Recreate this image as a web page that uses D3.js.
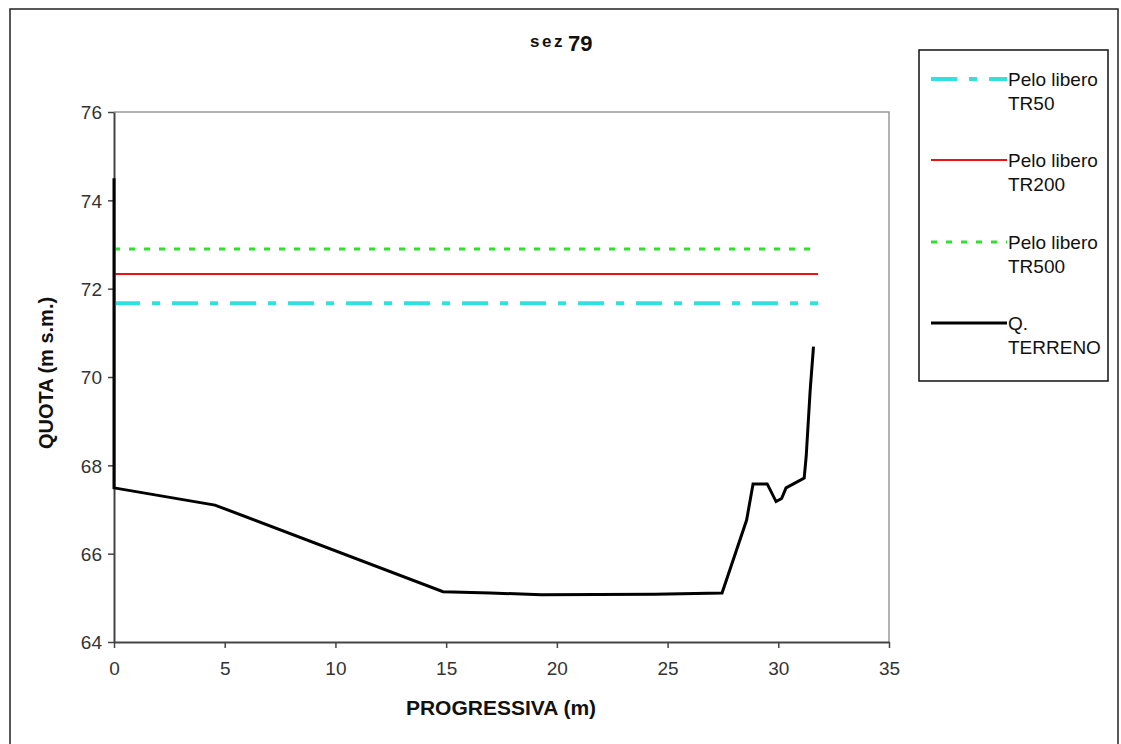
<!DOCTYPE html>
<html>
<head>
<meta charset="utf-8">
<script src="https://cdn.jsdelivr.net/npm/d3@7"></script>
<style>
  html, body { margin: 0; padding: 0; background: #fff; }
  svg { display: block; }
  text { font-family: "Liberation Sans", Arial, sans-serif; }
</style>
</head>
<body>
<svg id="chart" width="1121" height="744"></svg>
<script>
// ---- data ----
const xTicks = [0, 5, 10, 15, 20, 25, 30, 35];
const yTicks = [64, 66, 68, 70, 72, 74, 76];
const terrainX = [0, 0, 4.56, 14.86, 17.0, 19.3, 24.4, 27.46, 28.57, 28.86, 29.5, 29.9, 30.15, 30.35, 31.17, 31.26, 31.44, 31.59];
const terrainY = [74.5, 67.49, 67.10, 65.14, 65.11, 65.07, 65.08, 65.11, 66.76, 67.58, 67.58, 67.18, 67.25, 67.49, 67.71, 68.2, 69.7, 70.69];
const waterNames = ["Pelo libero TR50", "Pelo libero TR200", "Pelo libero TR500"];
const waterLevels = [71.67, 72.33, 72.9];
const waterExtent = [0, 31.8];
const legendLabels = [["Pelo libero", "TR50"], ["Pelo libero", "TR200"], ["Pelo libero", "TR500"], ["Q.", "TERRENO"]];

// ---- styles ----
const waterStyles = [
  { color: "#33e0e0", width: 4, dash: "26,12,8,12" },
  { color: "#ee1111", width: 2, dash: null },
  { color: "#33dd33", width: 3, dash: "6,9" }
];
const terrainStyle = { color: "#000", width: 3 };

const svg = d3.select("#chart");
const plot = { left: 114, top: 112, right: 889, bottom: 642 };

const x = d3.scaleLinear().domain([0, 35]).range([plot.left, plot.right]);
const y = d3.scaleLinear().domain([64, 76]).range([plot.bottom, plot.top]);

// outer frame
svg.append("rect").attr("x", 10).attr("y", 9).attr("width", 1108).attr("height", 745)
  .attr("fill", "none").attr("stroke", "#222").attr("stroke-width", 1.5);

// plot frame top/right
svg.append("path")
  .attr("d", `M${plot.left},${plot.top}H${plot.right}V${plot.bottom}`)
  .attr("fill", "none").attr("stroke", "#999").attr("stroke-width", 1.5);

// axes
const xAxis = d3.axisBottom(x).tickValues(xTicks).tickSize(6).tickSizeOuter(0).tickFormat(d3.format("d"));
const yAxis = d3.axisLeft(y).tickValues(yTicks).tickSize(6).tickSizeOuter(0).tickFormat(d3.format("d"));

const gx = svg.append("g").attr("transform", `translate(0,${plot.bottom})`).call(xAxis);
const gy = svg.append("g").attr("transform", `translate(${plot.left},0)`).call(yAxis);
[gx, gy].forEach(g => {
  g.select(".domain").attr("stroke", "#444").attr("stroke-width", 2);
  g.selectAll(".tick line").attr("stroke", "#444").attr("stroke-width", 1.5);
  g.selectAll(".tick text").attr("fill", "#333").style("font-size", "19px")
    .style("font-family", "'Liberation Sans', Arial, sans-serif");
});
gx.selectAll(".tick text").attr("dy", "0").attr("y", 33);
gy.selectAll(".tick text").attr("x", -12).attr("dy", "0.36em");

// water lines
const line = d3.line().x(d => x(d[0])).y(d => y(d[1]));
waterLevels.forEach((lv, i) => {
  const st = waterStyles[i];
  svg.append("path")
    .datum(waterExtent.map(xx => [xx, lv]))
    .attr("d", line)
    .attr("fill", "none")
    .attr("stroke", st.color)
    .attr("stroke-width", st.width)
    .attr("stroke-dasharray", st.dash);
});

// terrain
svg.append("path")
  .datum(terrainX.map((xx, i) => [xx, terrainY[i]]))
  .attr("d", line)
  .attr("fill", "none")
  .attr("stroke", terrainStyle.color)
  .attr("stroke-width", terrainStyle.width)
  .attr("stroke-linejoin", "miter");

// title
const title = svg.append("text").attr("x", 530).attr("y", 47).attr("font-weight", "bold").attr("fill", "#111");
title.append("tspan").text("sez").style("font-size", "17px").attr("letter-spacing", "2.5");
title.append("tspan").text("79").style("font-size", "22px").attr("dx", 3).attr("dy", 4);

// axis titles
svg.append("text").attr("x", 501).attr("y", 715).attr("text-anchor", "middle")
  .attr("font-weight", "bold").style("font-size", "21px").attr("fill", "#111")
  .text("PROGRESSIVA (m)");
svg.append("text").attr("transform", "translate(53,373) rotate(-90)").attr("text-anchor", "middle")
  .attr("font-weight", "bold").style("font-size", "20px").attr("fill", "#111")
  .text("QUOTA (m s.m.)");

// legend
const lg = svg.append("g");
lg.append("rect").attr("x", 919).attr("y", 50).attr("width", 189).attr("height", 331)
  .attr("fill", "#fff").attr("stroke", "#111").attr("stroke-width", 1.5);
const legendStyles = waterStyles.concat([{ color: terrainStyle.color, width: 3, dash: null }]);
const legendY = [79, 160, 242, 323];
legendLabels.forEach((lab, i) => {
  const st = legendStyles[i];
  lg.append("line").attr("x1", 931).attr("x2", 1007).attr("y1", legendY[i]).attr("y2", legendY[i])
    .attr("stroke", st.color).attr("stroke-width", st.width).attr("stroke-dasharray", st.dash);
  const t = lg.append("text").attr("x", 1008).attr("y", legendY[i] + 7).style("font-size", "19px").attr("fill", "#111");
  t.append("tspan").text(lab[0]);
  t.append("tspan").attr("x", 1008).attr("dy", 24).text(lab[1]);
});
</script>
</body>
</html>
